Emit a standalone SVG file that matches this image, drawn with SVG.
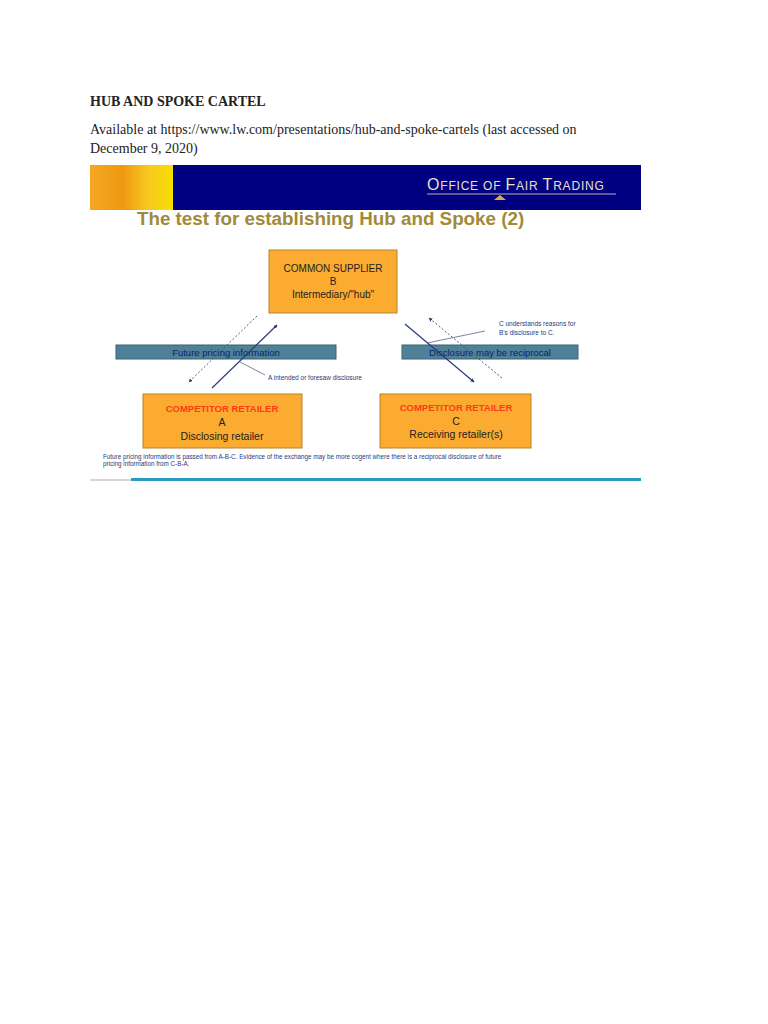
<svg xmlns="http://www.w3.org/2000/svg" width="768" height="1024" viewBox="0 0 768 1024">
<style>
.h{font-family:"Liberation Serif",serif;font-size:14px;fill:#222}
.s{font-family:"Liberation Sans",Arial,sans-serif}
.box{fill:#fbab2f;stroke:#b8822a;stroke-width:1}
.bar{fill:#4f8199;stroke:#3c6275;stroke-width:1}
.ln{stroke:#2a3a7a;stroke-width:1.2;fill:none}
.dt{stroke:#555a80;stroke-width:1;stroke-dasharray:2,2;fill:none}
.ld{stroke:#5a6488;stroke-width:0.8;fill:none}
.sm{font-size:6.5px;fill:#2a3a7a}
</style>
<defs>
<marker id="a" markerWidth="4" markerHeight="4" refX="3.5" refY="2" orient="auto" markerUnits="userSpaceOnUse"><path d="M0,0 L4,2 L0,4z" fill="#2a3a7a"/></marker>
<linearGradient id="g" x1="0" x2="1"><stop offset="0" stop-color="#f5a623"/><stop offset="0.4" stop-color="#ee9a10"/><stop offset="0.7" stop-color="#f7c820"/><stop offset="1" stop-color="#f7e000"/></linearGradient>
</defs>
<rect width="768" height="1024" fill="#fff"/>
<text x="90" y="106" class="h" font-weight="bold">HUB AND SPOKE CARTEL</text>
<text x="90" y="134" class="h">Available at https://www.lw.com/presentations/hub-and-spoke-cartels (last accessed on</text>
<text x="90" y="153" class="h">December 9, 2020)</text>
<g id="header">
<rect x="90" y="165" width="83" height="45" fill="url(#g)"/>
<rect x="173" y="165" width="468" height="45" fill="#000080"/>
<text x="427" y="190" class="s" font-size="16" fill="#e8e0c8" letter-spacing="0.8">O<tspan font-size="12">FFICE OF </tspan>F<tspan font-size="12">AIR </tspan>T<tspan font-size="12">RADING</tspan></text>
<line x1="427" y1="194" x2="616" y2="194" stroke="#e8e0c8" stroke-width="0.8"/>
<path d="M494,200 L500,195 L506,200z" fill="#d9a94a"/>
</g>
<text x="137" y="225" class="s" font-size="18.8" font-weight="bold" fill="#a08a3a">The test for establishing Hub and Spoke (2)</text>
<g id="hub">
<rect x="269" y="250" width="128" height="63" class="box"/>
<text class="s" font-size="10" fill="#222" text-anchor="middle"><tspan x="333" y="272">COMMON SUPPLIER</tspan><tspan x="333" y="285">B</tspan><tspan x="333" y="298">Intermediary/"hub"</tspan></text>
</g>
<g id="bar-left">
<rect x="116" y="345" width="220" height="14" class="bar"/>
<text x="226" y="356" class="s" font-size="9.5" fill="#10206a" text-anchor="middle">Future pricing information</text>
</g>
<g id="bar-right">
<rect x="402" y="345" width="176" height="14" class="bar"/>
<text x="490" y="356" class="s" font-size="9.5" fill="#10206a" text-anchor="middle">Disclosure may be reciprocal</text>
</g>
<g id="connectors">
<line x1="257" y1="316" x2="189" y2="382" class="dt" marker-end="url(#a)"/>
<line x1="212" y1="388" x2="277" y2="325" class="ln" marker-end="url(#a)"/>
<line x1="405" y1="324" x2="474" y2="382" class="ln" marker-end="url(#a)"/>
<line x1="502" y1="378" x2="429" y2="318" class="dt" marker-end="url(#a)"/>
<line x1="240" y1="362" x2="265" y2="375" class="ld"/>
<line x1="427" y1="343" x2="485" y2="331" class="ld"/>
</g>
<text x="268" y="380" class="s sm">A intended or foresaw disclosure</text>
<text class="s sm"><tspan x="499" y="326">C understands reasons for</tspan><tspan x="499" y="335">B's disclosure to C.</tspan></text>
<g id="retailerA">
<rect x="143" y="394" width="159" height="54" class="box"/>
<text x="222" y="412" class="s" font-size="9.5" font-weight="bold" fill="#ff3a1a" text-anchor="middle">COMPETITOR RETAILER</text>
<text class="s" font-size="10.5" fill="#222" text-anchor="middle"><tspan x="222" y="426">A</tspan><tspan x="222" y="440">Disclosing retailer</tspan></text>
</g>
<g id="retailerC">
<rect x="380" y="394" width="151" height="54" class="box"/>
<text x="456" y="411" class="s" font-size="9.5" font-weight="bold" fill="#ff3a1a" text-anchor="middle">COMPETITOR RETAILER</text>
<text class="s" font-size="10.5" fill="#222" text-anchor="middle"><tspan x="456" y="425">C</tspan><tspan x="456" y="438">Receiving retailer(s)</tspan></text>
</g>
<text class="s" font-size="6.3" fill="#2a3a7a"><tspan x="103" y="459">Future pricing information is passed from A-B-C. Evidence of the exchange may be more cogent where there is a reciprocal disclosure of future</tspan><tspan x="103" y="466">pricing information from C-B-A.</tspan></text>
<line x1="90" y1="480" x2="131" y2="480" stroke="#999" stroke-width="0.8"/>
<rect x="131" y="478" width="510" height="3" fill="#2a9ac0"/>
</svg>
